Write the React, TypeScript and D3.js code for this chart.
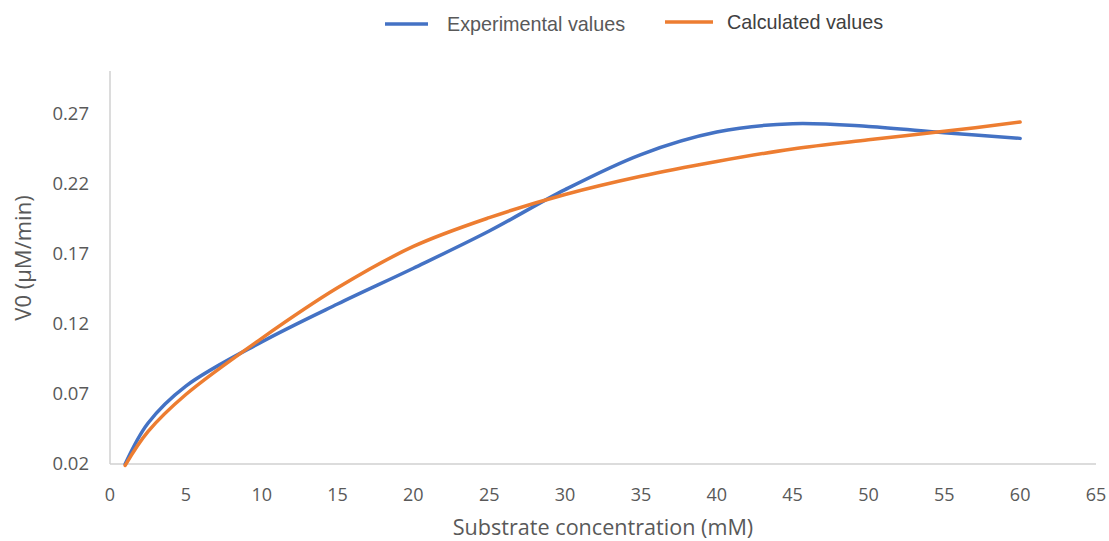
import { useEffect, useRef } from "react";
import * as d3 from "d3";

// substrate concentration (mM)
const substrate = [1, 2.5, 5, 10, 15, 20, 25, 30, 35, 40, 45, 50, 55, 60];
// V0 (µM/min)
const experimental = [0.02, 0.049, 0.0755, 0.107, 0.134, 0.1595, 0.186, 0.2155, 0.2405, 0.2565, 0.2625, 0.2605, 0.256, 0.252];
const calculated = [0.019, 0.043, 0.0695, 0.1095, 0.1455, 0.175, 0.1955, 0.212, 0.225, 0.2355, 0.2445, 0.251, 0.257, 0.2636];

const xTicks = d3.range(0, 70, 5);
const yTicks = [0.02, 0.07, 0.12, 0.17, 0.22, 0.27];

const series = [
  { name: "Experimental values", values: experimental, color: "#4472C4" },
  { name: "Calculated values", values: calculated, color: "#ED7D31" },
];

const W = 1109;
const H = 541;
const font = "'Open Sans', sans-serif";

export default function App() {
  const ref = useRef<SVGSVGElement>(null);

  useEffect(() => {
    if (!ref.current) return;
    const svg = d3.select(ref.current);
    svg.selectAll("*").remove();

    const x = d3.scaleLinear().domain([0, 65]).range([110, 1096]);
    const y = d3.scaleLinear().domain([0.02, 0.3]).range([464, 71]);

    // axis lines
    svg.append("line")
      .attr("x1", x(0)).attr("x2", x(0))
      .attr("y1", y(0.3)).attr("y2", y(0.02))
      .attr("stroke", "#d0d0d0").attr("stroke-width", 1.5);
    svg.append("line")
      .attr("x1", x(0)).attr("x2", x(65))
      .attr("y1", y(0.02)).attr("y2", y(0.02))
      .attr("stroke", "#d0d0d0").attr("stroke-width", 1.5);

    svg.append("g")
      .selectAll("text")
      .data(yTicks)
      .join("text")
      .attr("x", 89)
      .attr("y", (d) => y(d))
      .attr("dy", "0.35em")
      .attr("text-anchor", "end")
      .attr("font-family", font)
      .attr("font-size", 18.5)
      .attr("fill", "#595959")
      .text((d) => d.toFixed(2));

    svg.append("g")
      .selectAll("text")
      .data(xTicks)
      .join("text")
      .attr("x", (d) => x(d))
      .attr("y", 495)
      .attr("dy", "0.35em")
      .attr("text-anchor", "middle")
      .attr("font-family", font)
      .attr("font-size", 18)
      .attr("fill", "#595959")
      .text((d) => String(d));

    svg.append("text")
      .attr("x", 603)
      .attr("y", 535)
      .attr("text-anchor", "middle")
      .attr("font-family", font)
      .attr("font-size", 21.6)
      .attr("fill", "#595959")
      .text("Substrate concentration (mM)");

    svg.append("text")
      .attr("transform", "translate(31,258) rotate(-90)")
      .attr("text-anchor", "middle")
      .attr("font-family", font)
      .attr("font-size", 22)
      .attr("fill", "#595959")
      .text("V0 (µM/min)");

    const line = d3
      .line<number>()
      .x((_, i) => x(substrate[i]))
      .y((d) => y(d))
      .curve(d3.curveCatmullRom.alpha(0.5));

    svg.append("g")
      .selectAll("path")
      .data(series)
      .join("path")
      .attr("d", (s) => line(s.values))
      .attr("fill", "none")
      .attr("stroke", (s) => s.color)
      .attr("stroke-width", 3.5)
      .attr("stroke-linecap", "round");

    // legend
    const legendPos = [
      { lx: 385, lw: 43, tx: 447, ly: 24, fill: "#595959" },
      { lx: 665, lw: 48, tx: 727, ly: 22, fill: "#404040" },
    ];
    series.forEach((s, i) => {
      const p = legendPos[i];
      svg.append("line")
        .attr("x1", p.lx).attr("x2", p.lx + p.lw)
        .attr("y1", p.ly).attr("y2", p.ly)
        .attr("stroke", s.color).attr("stroke-width", 3.5);
      svg.append("text")
        .attr("x", p.tx)
        .attr("y", p.ly)
        .attr("dy", "0.35em")
        .attr("font-family", "'Liberation Sans', Arial, sans-serif")
        .attr("font-size", 19.8)
        .attr("fill", p.fill)
        .text(s.name);
    });
  }, []);

  return (
    <svg
      ref={ref}
      width={W}
      height={H}
      style={{ position: "absolute", left: 0, top: 0, background: "#fff" }}
    />
  );
}
